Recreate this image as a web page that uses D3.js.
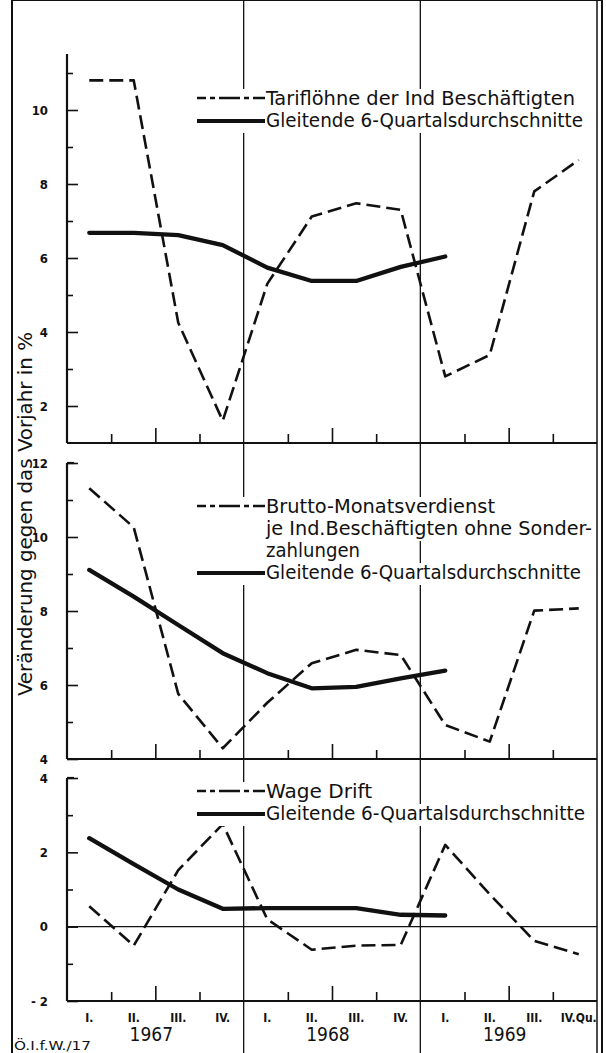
<!DOCTYPE html>
<html>
<head>
<meta charset="utf-8">
<title>Tariflöhne, Brutto-Monatsverdienst, Wage Drift 1967-1969</title>
<style>
  body { margin: 0; background: #fff; }
  svg text { font-family: "DejaVu Sans Condensed", "DejaVu Sans", sans-serif; fill: #111; }
  .tick line { stroke: #111; stroke-width: 1.6; }
  .tick text { font-size: 13px; font-weight: bold; }
</style>
</head>
<body>
<svg width="606" height="1053"></svg>
<script src="https://d3js.org/d3.v7.min.js"></script>
<script>

  // quarters 1967 I. .. 1969 IV.
  var quarterLabels = ["I.", "II.", "III.", "IV.", "I.", "II.", "III.", "IV.", "I.", "II.", "III.", "IV.Qu."]
  var years = ["1967", "1968", "1969"]

  // panel 1: Tariflöhne
  var tarifLoehne = [10.8, 10.8, 4.25, 1.6, 5.3, 7.12, 7.48, 7.3, 2.8, 3.38, 7.8, 8.65]
  var tarifAvg = [6.68, 6.68, 6.62, 6.35, 5.74, 5.38, 5.38, 5.76, 6.04]
  var tarifMajor = [2, 4, 6, 8, 10]
  var tarifMinor = [3, 5, 7, 9, 11]

  // panel 2: Brutto-Monatsverdienst
  var brutto = [11.32, 10.26, 5.76, 4.29, 5.52, 6.59, 6.95, 6.81, 4.92, 4.47, 8.01, 8.07]
  var bruttoAvg = [9.11, 8.39, 7.62, 6.86, 6.32, 5.91, 5.95, 6.18, 6.39]
  var bruttoMajor = [4, 6, 8, 10, 12]
  var bruttoMinor = [5, 7, 9, 11]

  // panel 3: Wage Drift
  var wageDrift = [0.55, -0.51, 1.52, 2.76, 0.2, -0.62, -0.51, -0.49, 2.2, 0.87, -0.38, -0.74]
  var wageAvg = [2.38, 1.68, 1.0, 0.48, 0.5, 0.5, 0.5, 0.32, 0.3]
  var wageMajor = [-2, 0, 2, 4]
  var wageMinor = [-1, 1, 3]

  var svg = d3.select("svg"),
    left = 67,
    right = 597,
    top = 6,
    bottom = 1053

  var xPoint = d3.scalePoint().domain(d3.range(12)).range([left, 601]).padding(0.5)
  var xEdge = d3.scaleLinear().domain([0, 12]).range([left, right])

  // frame
  svg.append("rect")
    .attr("x", 12).attr("y", top)
    .attr("width", 590).attr("height", 1070)
    .attr("fill", "none").attr("stroke", "#111").attr("stroke-width", 2)
  svg.append("line")
    .attr("x1", right).attr("x2", right).attr("y1", top).attr("y2", bottom)
    .attr("stroke", "#111").attr("stroke-width", 1.5)

  // year separators
  svg.selectAll(".sep")
    .data([4, 8])
    .enter().append("line")
    .attr("class", "sep")
    .attr("x1", function (d) { return xEdge(d) })
    .attr("x2", function (d) { return xEdge(d) })
    .attr("y1", top).attr("y2", bottom)
    .attr("stroke", "#111").attr("stroke-width", 1.3)

  var line = function (y) {
    return d3.line()
      .x(function (d, i) { return xPoint(i) })
      .y(function (d) { return y(d) })
  }

  function legend(rows, startY) {
    var g = svg.append("g")
    rows.forEach(function (r, i) {
      var base = startY + i * 22
      g.append("rect")
        .attr("x", 194).attr("y", base - 16)
        .attr("width", 265 + r.width - 194 + 4).attr("height", 22)
        .attr("fill", "#fff")
      if (r.kind === "dash") {
        g.append("line")
          .attr("x1", 197).attr("x2", 265).attr("y1", base - 7).attr("y2", base - 7)
          .attr("stroke", "#111").attr("stroke-width", 2.4)
          .attr("stroke-dasharray", "9,4,5,4,12,0")
      } else if (r.kind === "solid") {
        g.append("line")
          .attr("x1", 197).attr("x2", 265).attr("y1", base - 6).attr("y2", base - 6)
          .attr("stroke", "#111").attr("stroke-width", 4.2)
      }
      g.append("text")
        .attr("x", 266).attr("y", base)
        .attr("font-size", 19)
        .attr("textLength", r.width)
        .attr("lengthAdjust", "spacingAndGlyphs")
        .text(r.text)
    })
  }

  function panel(p) {
    var y = d3.scaleLinear().domain(p.domain).range(p.range)
    var g = svg.append("g")

    // y axis: minor and major ticks pointing inwards
    g.append("g")
      .attr("transform", "translate(" + left + ",0)")
      .call(d3.axisLeft(y).tickValues(p.minor).tickSize(-6).tickSizeOuter(0).tickFormat(""))
      .select(".domain").remove()
    g.append("g")
      .attr("transform", "translate(" + left + ",0)")
      .call(d3.axisLeft(y).tickValues(p.major).tickSize(-11).tickSizeOuter(0).tickPadding(19)
        .tickFormat(function (d) { return d < 0 ? "- " + Math.abs(d) : d }))
      .select(".domain").remove()

    g.append("line")
      .attr("x1", left).attr("x2", left)
      .attr("y1", p.axisTop).attr("y2", p.range[0])
      .attr("stroke", "#111").attr("stroke-width", 2.2)
    if (p.cap) {
      g.append("line")
        .attr("x1", left).attr("x2", left + 7)
        .attr("y1", p.axisTop).attr("y2", p.axisTop)
        .attr("stroke", "#111").attr("stroke-width", 2.2)
    }

    // x axis ticks at quarter boundaries
    var xa = g.append("g").attr("transform", "translate(0," + p.range[0] + ")")
    xa.append("g")
      .call(d3.axisBottom(xEdge).tickValues([1, 3, 5, 7, 9, 11]).tickSize(-9).tickFormat(""))
      .select(".domain").remove()
    xa.append("g")
      .call(d3.axisBottom(xEdge).tickValues([2, 6, 10]).tickSize(-15).tickFormat(""))
      .select(".domain").remove()
    g.append("line")
      .attr("x1", left).attr("x2", right)
      .attr("y1", p.range[0]).attr("y2", p.range[0])
      .attr("stroke", "#111").attr("stroke-width", 2)

    if (p.zero) {
      g.append("line")
        .attr("x1", left).attr("x2", right)
        .attr("y1", y(0)).attr("y2", y(0))
        .attr("stroke", "#111").attr("stroke-width", 1.2)
    }

    legend(p.legend, p.legendY)

    g.append("path")
      .datum(p.series)
      .attr("fill", "none")
      .attr("stroke", "#111")
      .attr("stroke-width", 2.6)
      .attr("stroke-dasharray", "14,6")
      .attr("stroke-linejoin", "round")
      .attr("d", line(y))

    g.append("path")
      .datum(p.avg)
      .attr("fill", "none")
      .attr("stroke", "#111")
      .attr("stroke-width", 4.3)
      .attr("stroke-linejoin", "round")
      .attr("stroke-linecap", "round")
      .attr("d", line(y))
  }

  panel({
    domain: [1, 11.5], range: [443, 54.5], axisTop: 54,
    major: tarifMajor, minor: tarifMinor,
    series: tarifLoehne, avg: tarifAvg,
    legendY: 105,
    legend: [
      {kind: "dash", text: "Tariflöhne der Ind Beschäftigten", width: 309},
      {kind: "solid", text: "Gleitende 6-Quartalsdurchschnitte", width: 317}
    ]
  })

  panel({
    domain: [4, 12], range: [759, 463], axisTop: 463, cap: true,
    major: bruttoMajor, minor: bruttoMinor,
    series: brutto, avg: bruttoAvg,
    legendY: 513,
    legend: [
      {kind: "dash", text: "Brutto-Monatsverdienst", width: 229},
      {kind: null, text: "je Ind.Beschäftigten ohne Sonder-", width: 326},
      {kind: null, text: "zahlungen", width: 94},
      {kind: "solid", text: "Gleitende 6-Quartalsdurchschnitte", width: 315}
    ]
  })

  panel({
    domain: [-2, 4], range: [1001, 778], axisTop: 778, cap: true, zero: true,
    major: wageMajor, minor: wageMinor,
    series: wageDrift, avg: wageAvg,
    legendY: 798,
    legend: [
      {kind: "dash", text: "Wage Drift", width: 106},
      {kind: "solid", text: "Gleitende 6-Quartalsdurchschnitte", width: 319}
    ]
  })

  // quarter and year labels
  svg.selectAll(".qlabel")
    .data(quarterLabels)
    .enter().append("text")
    .attr("class", "qlabel")
    .attr("x", function (d, i) { return xPoint(i) })
    .attr("y", 1022)
    .attr("text-anchor", "middle")
    .attr("font-size", 12)
    .attr("font-weight", "bold")
    .text(function (d) { return d })

  svg.selectAll(".ylabel")
    .data(years)
    .enter().append("text")
    .attr("class", "ylabel")
    .attr("x", function (d, i) { return xEdge(i * 4 + 2) - 4 })
    .attr("y", 1041)
    .attr("text-anchor", "middle")
    .attr("font-size", 19)
    .text(function (d) { return d })

  svg.append("text")
    .attr("x", 14).attr("y", 1050)
    .attr("font-size", 13)
    .attr("textLength", 77)
    .attr("lengthAdjust", "spacingAndGlyphs")
    .text("Ö.I.f.W./17")

  svg.append("text")
    .attr("transform", "translate(32,514) rotate(-90)")
    .attr("text-anchor", "middle")
    .attr("font-size", 19)
    .attr("textLength", 364)
    .attr("lengthAdjust", "spacingAndGlyphs")
    .text("Veränderung gegen das Vorjahr in %")

</script>
</body>
</html>
